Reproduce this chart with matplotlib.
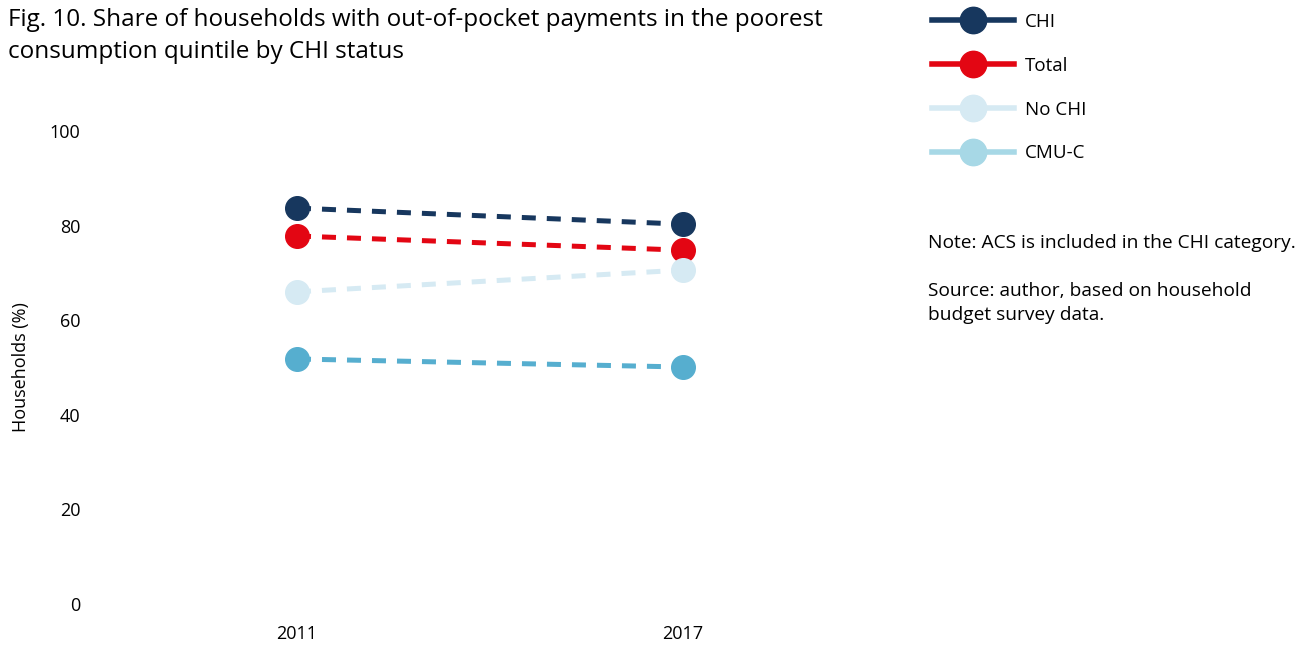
import matplotlib.pyplot as plt
from matplotlib.lines import Line2D

plt.rcParams['font.family'] = ['Open Sans', 'DejaVu Sans']

years = ['2011', '2017']
series = ['CHI', 'Total', 'No CHI', 'CMU-C']
values = {
    'CHI': [83.7, 80.3],
    'Total': [77.8, 74.8],
    'No CHI': [66.0, 70.6],
    'CMU-C': [51.8, 50.1],
}
colors = {'CHI': '#17375e', 'Total': '#e30613', 'No CHI': '#d6eaf3', 'CMU-C': '#56aecf'}
legend_colors = {'CHI': '#17375e', 'Total': '#e30613', 'No CHI': '#d6eaf3', 'CMU-C': '#a7d8e6'}

fig = plt.figure(figsize=(13.1, 6.45), dpi=100)
ax = fig.add_axes([104 / 1310, 41 / 645, 772 / 1310, 473 / 645])

x = range(len(years))
for s in series:
    ax.plot(x, values[s], color=colors[s], lw=3.6, dashes=(2.8, 2.2),
            marker='o', markersize=17, zorder=3)

ax.set_xlim(-0.5, 1.5)
ax.set_ylim(0, 100)
ax.set_xticks(list(x))
ax.set_xticklabels(years)
ax.set_yticks([0, 20, 40, 60, 80, 100])
ax.tick_params(length=0, labelsize=13)
ax.tick_params(axis='x', pad=15)
ax.tick_params(axis='y', pad=17)
for sp in ax.spines.values():
    sp.set_visible(False)
ax.set_ylabel('Households (%)', fontsize=13, labelpad=14)

fig.text(8 / 1310, 1 - 36 / 645, 'Fig. 10. Share of households with out-of-pocket payments in the poorest\nconsumption quintile by CHI status',
         fontsize=17.5, va='center', ha='left', linespacing=1.5)

handles = [Line2D([], [], color=legend_colors[s], lw=4, marker='o', markersize=19) for s in series]
fig.legend(handles, series, loc='upper left', bbox_to_anchor=(915 / 1310, 1 + 4 / 645),
           frameon=False, fontsize=13.5, handlelength=4.4, handletextpad=0.55,
           labelspacing=1.38)

fig.text(928 / 1310, 1 - 243 / 645, 'Note: ACS is included in the CHI category.', fontsize=13.8, va='center')
fig.text(928 / 1310, 1 - 303 / 645, 'Source: author, based on household\nbudget survey data.', fontsize=13.8,
         va='center', linespacing=1.45)

fig.savefig('out.png', dpi=100)
